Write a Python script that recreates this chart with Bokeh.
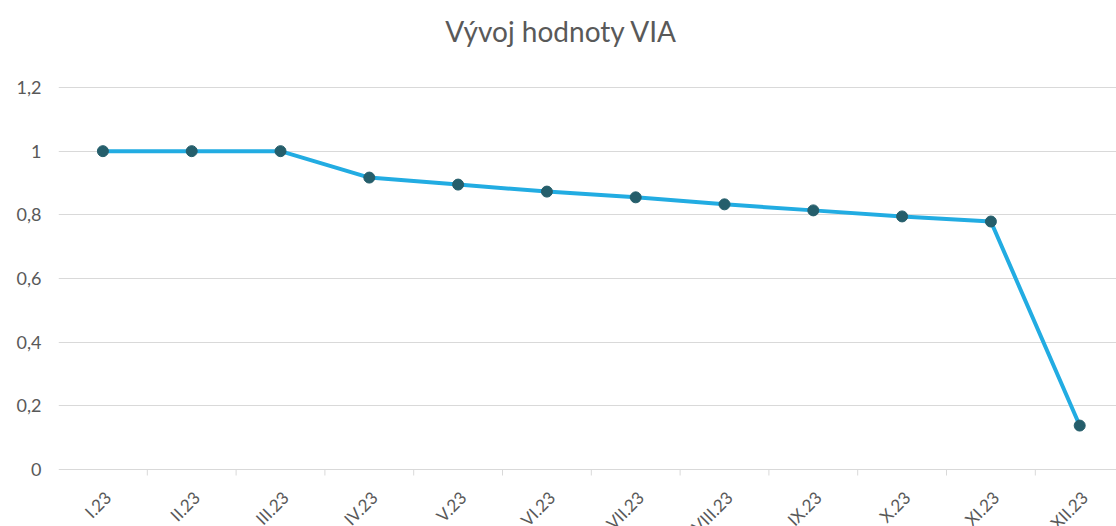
import math
from bokeh.plotting import figure
from bokeh.models import FixedTicker, ColumnDataSource, Range1d, LabelSet, Label
from bokeh.core.properties import value
from bokeh.embed import file_html
from bokeh.resources import INLINE

title_text = "Vývoj hodnoty VIA"
months = ["I.23", "II.23", "III.23", "IV.23", "V.23", "VI.23", "VII.23",
          "VIII.23", "IX.23", "X.23", "XI.23", "XII.23"]
values = [1.0, 1.0, 1.0, 0.917, 0.895, 0.873, 0.855, 0.833, 0.814, 0.795, 0.779, 0.138]
y_ticks = [0, 0.2, 0.4, 0.6, 0.8, 1.0, 1.2]
y_tick_labels = ["0", "0,2", "0,4", "0,6", "0,8", "1", "1,2"]

idx = list(range(len(months)))
n = len(months)
src = ColumnDataSource(dict(x=idx, y=values, m=months, y0=[0] * n))

TEXT = "#595959"
GRID = "#D9D9D9"
FONT = "Lato"

PX_PER_UNIT = 382 / 1.2          # vertical scale of the value axis
PX_PER_CAT = 88.8                 # horizontal width of one category
BOTTOM = 57 / PX_PER_UNIT         # room under zero for the category labels
TOP = 87 / PX_PER_UNIT            # room above the axis maximum for the title
TICK = 6 / PX_PER_UNIT
Y_MAX = max(y_ticks)

p = figure(frame_width=1058, frame_height=526, output_backend="svg", toolbar_location=None,
           x_range=Range1d(-0.5, -0.5 + 1058 / PX_PER_CAT),
           y_range=Range1d(-BOTTOM, Y_MAX + TOP),
           min_border_left=58, min_border_right=0, min_border_top=0, min_border_bottom=0)
p.outline_line_color = None

p.xaxis.visible = False
p.xgrid.grid_line_color = None
p.ygrid.grid_line_color = GRID
p.ygrid.grid_line_width = 1

# title, centred over the chart area
p.add_layout(Label(x=-0.5 + 503 / PX_PER_CAT, y=Y_MAX + 57 / PX_PER_UNIT, text=title_text,
                   text_align="center", text_baseline="middle",
                   text_font=FONT, text_font_size="28px", text_color=TEXT))

# category boundary tick marks below the zero line
bx = [i + 0.5 for i in idx[:-1]]
p.segment(x0=bx, y0=[0] * len(bx), x1=bx, y1=[-TICK] * len(bx), line_color=GRID, line_width=1)

p.line("x", "y", source=src, line_color="#22ACE2", line_width=4)
p.scatter("x", "y", source=src, size=11, fill_color="#255E6B", line_color="#255E6B")

labels = LabelSet(x="x", y="y0", text="m", source=src, angle=math.pi / 4,
                  text_align="right", text_baseline="middle",
                  x_offset=5, y_offset=-25,
                  text_font=value(FONT), text_font_size=value("17px"), text_color=TEXT)
p.add_layout(labels)

ya = p.yaxis[0]
ya.ticker = FixedTicker(ticks=y_ticks)
ya.major_label_overrides = {t: l for t, l in zip(y_ticks, y_tick_labels)}
ya.axis_line_color = None
ya.major_tick_line_color = None
ya.minor_tick_line_color = None
ya.major_tick_out = 0
ya.major_label_standoff = 17
ya.major_label_text_font = FONT
ya.major_label_text_font_size = "18px"
ya.major_label_text_color = TEXT

open("out.html", "w").write(file_html(p, INLINE))
